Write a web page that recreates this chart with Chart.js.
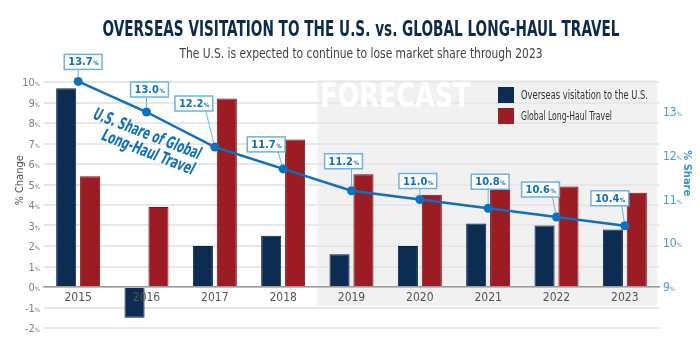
<!DOCTYPE html>
<html>
<head>
<meta charset="utf-8">
<script src="https://cdn.jsdelivr.net/npm/chart.js@4.4.1/dist/chart.umd.min.js"></script>
<style>
  html, body { margin: 0; padding: 0; background: #fff; }
  #wrap { width: 700px; height: 350px; position: relative; }
</style>
</head>
<body>
<div id="wrap"><canvas id="chart"></canvas></div>
<script>
// data
const years = ["2015", "2016", "2017", "2018", "2019", "2020", "2021", "2022", "2023"];
const overseasVisitation = [9.7, -1.5, 2.0, 2.5, 1.6, 2.0, 3.1, 3.0, 2.8];
const globalLongHaul = [5.4, 3.9, 9.2, 7.2, 5.5, 4.5, 4.8, 4.9, 4.6];
const usShare = [13.7, 13.0, 12.2, 11.7, 11.2, 11.0, 10.8, 10.6, 10.4];
const changeTicks = [-2, -1, 0, 1, 2, 3, 4, 5, 6, 7, 8, 9, 10];
const shareTicks = [9, 10, 11, 12, 13];
const forecastFrom = "2019";

// label box placement relative to each point: [dx of box centre, box bottom above point]
const labelOffsets = [[5, -12], [3, -15], [-21, -36], [-17, -17], [-8, -22], [-2, -11], [2, -19], [-16, -20], [-15, -20]];

const NAVY = "#0c2c52";
const RED = "#9c1c24";
const BLUE = "#0e6fbe";
const LIGHTBLUE = "#6ab3e3";
const NARROW = '"Liberation Sans Narrow", "DejaVu Sans Condensed", "Roboto", sans-serif';

// draw text squeezed/stretched to a given width
function fitText(ctx, text, x, y, font, width) {
  ctx.font = font;
  const w = ctx.measureText(text).width;
  ctx.save();
  ctx.translate(x, y);
  ctx.scale(width / w, 1);
  ctx.fillText(text, 0, 0);
  ctx.restore();
}

const decorations = {
  id: "decorations",
  beforeDraw(chart) {
    const { ctx, chartArea, scales } = chart;
    const x = scales.x, y = scales.y;
    const i = years.indexOf(forecastFrom);
    const left = (x.getPixelForValue(i - 1) + x.getPixelForValue(i)) / 2;
    ctx.save();
    ctx.fillStyle = "#f1f1f1";
    ctx.fillRect(left, chartArea.top - 2, chartArea.right - left - 2, y.getPixelForValue(-1) - 2 - (chartArea.top - 2));
    ctx.restore();
  },
  beforeDatasetsDraw(chart) {
    const { ctx, chartArea, scales } = chart;
    const x = scales.x;
    const i = years.indexOf(forecastFrom);
    const left = (x.getPixelForValue(i - 1) + x.getPixelForValue(i)) / 2;
    ctx.save();
    ctx.fillStyle = "#ffffff";
    ctx.textAlign = "left";
    ctx.textBaseline = "alphabetic";
    ctx.font = "bold 33px " + NARROW;
    const w = ctx.measureText("FORECAST").width;
    ctx.translate(left + 3, chartArea.top + 25);
    ctx.scale(150 / w, 1);
    ctx.fillText("FORECAST", 0, 0);
    ctx.restore();
  },
  afterDraw(chart) {
    const { ctx, chartArea, scales } = chart;
    const x = scales.x, y = scales.y, s = scales.share;
    ctx.save();

    // title + subtitle
    ctx.textAlign = "center";
    ctx.textBaseline = "alphabetic";
    ctx.fillStyle = "#0c2a4d";
    fitText(ctx, "OVERSEAS VISITATION TO THE U.S. vs. GLOBAL LONG-HAUL TRAVEL", 361, 36, "bold 22px " + NARROW, 517);
    ctx.fillStyle = "#444";
    fitText(ctx, "The U.S. is expected to continue to lose market share through 2023", 361, 58, "14px " + NARROW, 363);

    // left ticks with small %
    changeTicks.forEach(v => {
      const py = y.getPixelForValue(v);
      ctx.fillStyle = "#808080";
      ctx.textAlign = "right";
      ctx.font = "6px " + NARROW;
      const pw = ctx.measureText("%").width;
      ctx.fillText("%", chartArea.left - 4, py + 4);
      ctx.font = "11px " + NARROW;
      ctx.fillText(String(v), chartArea.left - 4 - pw, py + 4);
    });
    // right ticks
    shareTicks.forEach(v => {
      const py = s.getPixelForValue(v);
      ctx.fillStyle = "#4a9ad6";
      ctx.textAlign = "left";
      ctx.font = "12px " + NARROW;
      const t = String(v);
      const tw = ctx.measureText(t).width;
      ctx.fillText(t, chartArea.right + 4, py + 4);
      ctx.font = "6px " + NARROW;
      ctx.fillText("%", chartArea.right + 4 + tw, py + 4);
    });

    // axis titles
    ctx.save();
    ctx.translate(19, y.getPixelForValue(5.2));
    ctx.rotate(-Math.PI / 2);
    ctx.textAlign = "center";
    ctx.fillStyle = "#555";
    ctx.font = "11px " + NARROW;
    ctx.fillText("% Change", 0, 4);
    ctx.restore();
    ctx.save();
    ctx.translate(688, s.getPixelForValue(11.6));
    ctx.rotate(Math.PI / 2);
    ctx.textAlign = "center";
    ctx.fillStyle = "#3a93d3";
    ctx.font = "bold 11px " + NARROW;
    ctx.fillText("% Share", 0, 4);
    ctx.restore();

    // legend
    const items = [chart.data.datasets[1], chart.data.datasets[2]];
    const legendWidths = [127, 91];
    items.forEach((ds, k) => {
      const ly = chartArea.top + 5 + k * 21;
      ctx.fillStyle = ds.backgroundColor;
      ctx.fillRect(498, ly, 16, 16);
      ctx.fillStyle = "#333";
      ctx.textAlign = "left";
      fitText(ctx, ds.label, 521, ly + 12, "11.5px " + NARROW, legendWidths[k]);
    });

    // share annotation along the line
    ctx.fillStyle = BLUE;
    ctx.textAlign = "center";
    const ang = 0.37;
    ctx.save();
    ctx.translate(x.getPixelForValue(1) + 1, y.getPixelForValue(7.5));
    ctx.rotate(ang);
    fitText(ctx, "U.S. Share of Global", 0, 6, "italic bold 17px " + NARROW, 114);
    ctx.restore();
    ctx.save();
    ctx.translate(x.getPixelForValue(1) + 2, y.getPixelForValue(6.6));
    ctx.rotate(ang);
    fitText(ctx, "Long-Haul Travel", 0, 6, "italic bold 17px " + NARROW, 98);
    ctx.restore();

    // value labels with leaders
    const meta = chart.getDatasetMeta(0);
    meta.data.forEach((pt, k) => {
      const [dx, dy] = labelOffsets[k];
      const t = usShare[k].toFixed(1);
      ctx.font = "bold 11px " + NARROW;
      const tw = ctx.measureText(t).width;
      ctx.font = "bold 6px " + NARROW;
      const pw = ctx.measureText("%").width;
      const bw = tw + pw + 8, bh = 15;
      const cx = pt.x + dx;
      const bottom = pt.y + dy;
      const bl = cx - bw / 2;
      const lx = Math.min(pt.x, bl + bw - 7);
      // leader
      const vx = pt.x - lx, vy = pt.y - bottom;
      const len = Math.hypot(vx, vy);
      ctx.strokeStyle = LIGHTBLUE;
      ctx.lineWidth = 1;
      ctx.beginPath();
      ctx.moveTo(lx, bottom);
      ctx.lineTo(pt.x - vx / len * 4, pt.y - vy / len * 4);
      ctx.stroke();
      // box
      ctx.fillStyle = "#fff";
      ctx.fillRect(bl, bottom - bh, bw, bh);
      ctx.lineWidth = 1.5;
      ctx.strokeRect(bl, bottom - bh, bw, bh);
      ctx.fillStyle = BLUE;
      ctx.textAlign = "left";
      ctx.font = "bold 11px " + NARROW;
      ctx.fillText(t, bl + 4, bottom - 4);
      ctx.font = "bold 6px " + NARROW;
      ctx.fillText("%", bl + 4 + tw + 0.5, bottom - 4);
    });

    ctx.restore();
  }
};

new Chart(document.getElementById("chart"), {
  type: "bar",
  data: {
    labels: years,
    datasets: [
      {
        type: "line",
        label: "U.S. Share of Global Long-Haul Travel",
        data: usShare,
        yAxisID: "share",
        borderColor: BLUE,
        backgroundColor: BLUE,
        borderWidth: 2.5,
        pointRadius: 4.5,
        pointBackgroundColor: BLUE,
        pointBorderWidth: 0,
        tension: 0,
        clip: false,
        order: 0
      },
      {
        label: "Overseas visitation to the U.S.",
        data: overseasVisitation,
        yAxisID: "y",
        backgroundColor: NAVY,
        borderColor: "#08203d",
        borderWidth: 1,
        categoryPercentage: 0.7,
        barPercentage: 0.84,
        order: 1
      },
      {
        label: "Global Long-Haul Travel",
        data: globalLongHaul,
        yAxisID: "y",
        backgroundColor: RED,
        borderColor: "#7c1219",
        borderWidth: 1,
        categoryPercentage: 0.7,
        barPercentage: 0.84,
        order: 1
      }
    ]
  },
  options: {
    responsive: true,
    maintainAspectRatio: false,
    animation: false,
    layout: { padding: { top: 82, bottom: 22, left: 0, right: 0 } },
    plugins: {
      legend: { display: false },
      title: { display: false },
      tooltip: { enabled: false }
    },
    scales: {
      x: {
        position: { y: 0 },
        grid: { display: false, drawTicks: false },
        border: { color: "#9a9a9a", width: 1.5 },
        ticks: {
          z: 1,
          color: "#555",
          font: { family: NARROW, size: 12 },
          padding: 4,
          maxRotation: 0
        }
      },
      y: {
        position: "left",
        min: -2,
        max: 10,
        ticks: { display: false, stepSize: 1 },
        grid: { color: "#e7e7e7", lineWidth: 2, drawTicks: false },
        border: { display: false },
        afterFit(scale) { scale.width = 44; }
      },
      share: {
        position: "right",
        min: 8.063,
        max: 13.686,
        ticks: { display: false },
        grid: { display: false },
        border: { display: false },
        afterFit(scale) { scale.width = 41; }
      }
    }
  },
  plugins: [decorations]
});
</script>
</body>
</html>
